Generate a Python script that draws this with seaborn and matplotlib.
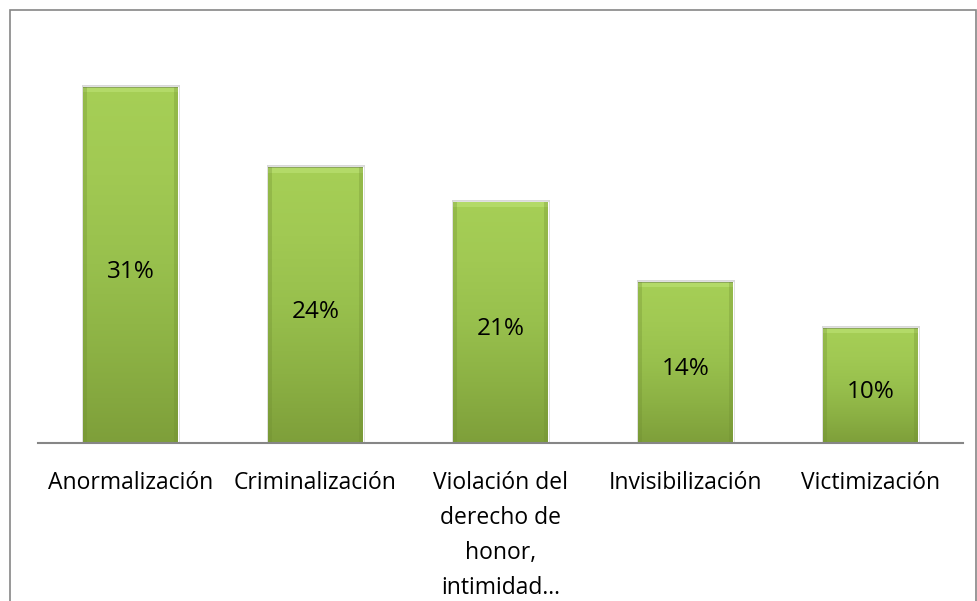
import matplotlib.pyplot as plt
import matplotlib.colors as mcolors
from matplotlib.patches import Rectangle
import numpy as np
import pandas as pd
import seaborn as sns

categorias = ['Anormalización', 'Criminalización',
              'Violación del\nderecho de\nhonor,\nintimidad…',
              'Invisibilización', 'Victimización']
valores = [0.31, 0.24, 0.21, 0.14, 0.10]
etiquetas = ['31%', '24%', '21%', '14%', '10%']

df = pd.DataFrame({'categoria': categorias, 'valor': valores})

sns.set_style('white')
plt.rcParams['font.family'] = ['Open Sans', 'DejaVu Sans']

fig = plt.figure(figsize=(9.78, 6.01), dpi=100)
ax = fig.add_axes([38 / 978, 1 - 443 / 601, (963 - 38) / 978, (443 - 41) / 601])

sns.barplot(data=df, x='categoria', y='valor', color='#9BBB59', width=0.51,
            saturation=1, ax=ax, zorder=2)

# degradado vertical tipo Excel en cada barra
cmap = mcolors.LinearSegmentedColormap.from_list(
    'verde', ['#7E9F3A', '#8CB144', '#98C04D', '#A1C953', '#A6CF56'])
grad = np.linspace(0, 1, 256).reshape(-1, 1)
for p in ax.patches:
    x0, y0 = p.get_x(), p.get_y()
    w, h = p.get_width(), p.get_height()
    # sombra
    ax.add_patch(Rectangle((x0 - 0.008, y0), w + 0.022, h + 0.002,
                           facecolor='#000000', alpha=0.15, edgecolor='none',
                           zorder=1))
    im = ax.imshow(grad, extent=[x0, x0 + w, y0, y0 + h], origin='lower',
                   cmap=cmap, aspect='auto', zorder=3)
    im.set_clip_path(p)
    # bisel superior
    ax.add_patch(Rectangle((x0, y0 + h - 0.0045), w, 0.0045, facecolor='#B3DA68',
                           edgecolor='none', zorder=4))
    ax.add_patch(Rectangle((x0, y0 + h - 0.0006), w, 0.0006, facecolor='#8DA85A',
                           edgecolor='none', zorder=4))
    # bordes laterales más oscuros
    ax.add_patch(Rectangle((x0, y0), w * 0.035, h, facecolor='#6E8C30',
                           edgecolor='none', alpha=0.3, zorder=4))
    ax.add_patch(Rectangle((x0 + w * 0.965, y0), w * 0.035, h, facecolor='#6E8C30',
                           edgecolor='none', alpha=0.3, zorder=4))

for i, (v, t) in enumerate(zip(valores, etiquetas)):
    ax.text(i, v / 2 - 0.006, t, ha='center', va='center', fontsize=17.5,
            color='#000000', zorder=5)

ax.set_xlim(-0.5, 4.5)
ax.set_ylim(0, 0.35)
ax.set_xlabel('')
ax.set_ylabel('')
ax.set_yticks([])
for s in ['top', 'right', 'left']:
    ax.spines[s].set_visible(False)
ax.spines['bottom'].set_color('#868686')
ax.spines['bottom'].set_linewidth(1.5)
ax.spines['bottom'].set_zorder(6)
ax.tick_params(axis='x', length=0, pad=20, labelsize=16.5, labelcolor='#000000')
for lab in ax.get_xticklabels():
    lab.set_linespacing(1.62)
    lab.set_verticalalignment('top')

# borde del área del gráfico
fig.patches.append(Rectangle((10 / 978, -0.05), 966 / 978, 1.05 - 10 / 601,
                             transform=fig.transFigure, fill=False,
                             edgecolor='#868686', linewidth=1.2))

fig.savefig('out.png', dpi=100)
